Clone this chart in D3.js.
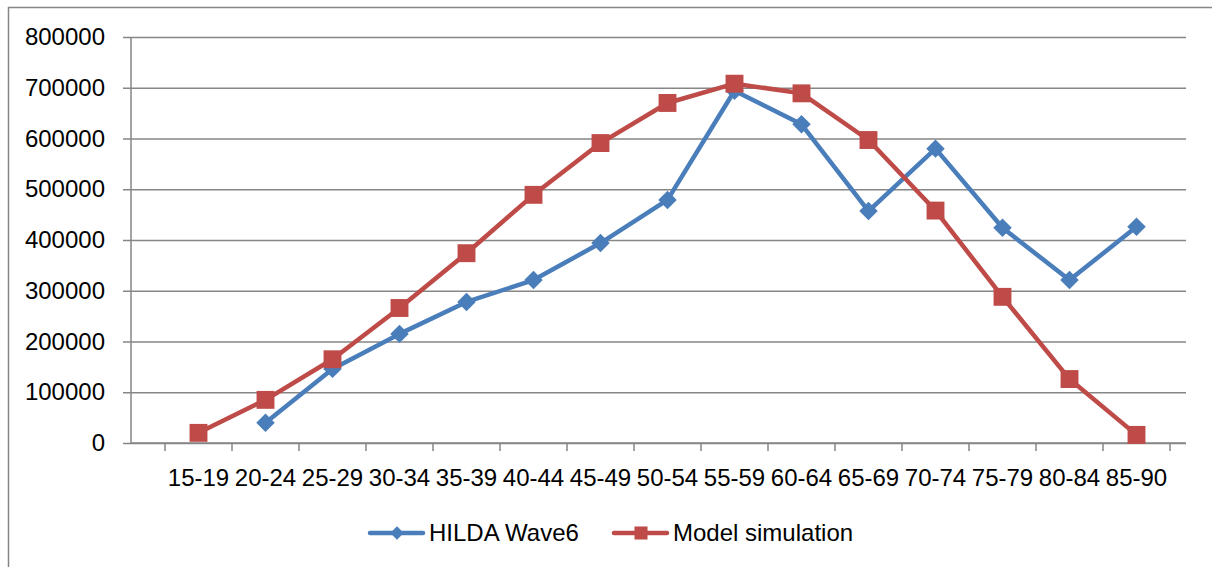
<!DOCTYPE html>
<html>
<head>
<meta charset="utf-8">
<script src="https://cdn.jsdelivr.net/npm/d3@7"></script>
<style>
  body { margin: 0; background: #fff; }
  text { font-family: "Liberation Sans", Arial, sans-serif; fill: #000; }
</style>
</head>
<body>
<div id="wrapper"></div>
<script>
const ageGroups = ["15-19","20-24","25-29","30-34","35-39","40-44","45-49","50-54","55-59","60-64","65-69","70-74","75-79","80-84","85-90"];
const hildaWave6 = [null, 40000, 146000, 215000, 278000, 321000, 394000, 479000, 694000, 628000, 457000, 580000, 424000, 321000, 426000];
const modelSimulation = [20000, 85000, 165000, 266000, 374000, 489000, 591000, 670000, 708000, 689000, 597000, 458000, 288000, 126000, 16000];
const yTicks = [0, 100000, 200000, 300000, 400000, 500000, 600000, 700000, 800000];

const dimension = {
  width: 1212,
  height: 567,
  plotLeft: 131,
  plotRight: 1186,
  plotTop: 37,
  plotBottom: 443,
  bandLeft: 165,
  bandRight: 1170,
};

const blue = "#4a7ebb";
const red = "#be4b48";
const grey = "#868686";

const svg = d3.select("#wrapper")
  .append("svg")
  .attr("width", dimension.width)
  .attr("height", dimension.height);

// chart border (cropped on right and bottom)
svg.append("path")
  .attr("d", `M8.5,${dimension.height} V7.5 H${dimension.width}`)
  .attr("fill", "none")
  .attr("stroke", grey)
  .attr("stroke-width", 1.5);

const x = d3.scaleBand()
  .domain(ageGroups)
  .range([dimension.bandLeft, dimension.bandRight]);

const y = d3.scaleLinear()
  .domain([0, 800000])
  .range([dimension.plotBottom, dimension.plotTop]);

// gridlines + y tick labels
const yAxis = svg.append("g")
  .attr("transform", `translate(${dimension.plotLeft},0)`)
  .call(d3.axisLeft(y)
    .tickValues(yTicks)
    .tickSize(8)
    .tickFormat(d3.format("d")));
yAxis.select(".domain").remove();
yAxis.selectAll(".tick line")
  .attr("x2", dimension.plotRight - dimension.plotLeft)
  .attr("x1", -8)
  .attr("stroke", grey)
  .attr("stroke-width", 1.5);
yAxis.selectAll(".tick text")
  .style("font-size", "24px")
  .attr("x", -26);

// y axis line
svg.append("line")
  .attr("x1", dimension.plotLeft).attr("x2", dimension.plotLeft)
  .attr("y1", dimension.plotTop).attr("y2", dimension.plotBottom)
  .attr("stroke", grey)
  .attr("stroke-width", 1.5);

// x axis
const boundaries = ageGroups.map(d => x(d)).concat([x.range()[1]]);
svg.append("line")
  .attr("x1", dimension.plotLeft).attr("x2", dimension.plotRight)
  .attr("y1", dimension.plotBottom).attr("y2", dimension.plotBottom)
  .attr("stroke", grey)
  .attr("stroke-width", 1.5);
svg.append("g")
  .selectAll("line")
  .data(boundaries)
  .enter()
  .append("line")
  .attr("x1", d => d).attr("x2", d => d)
  .attr("y1", dimension.plotBottom).attr("y2", dimension.plotBottom + 8)
  .attr("stroke", grey)
  .attr("stroke-width", 1.5);
svg.append("g")
  .selectAll("text")
  .data(ageGroups)
  .enter()
  .append("text")
  .attr("x", d => x(d) + x.bandwidth() / 2)
  .attr("y", 486)
  .style("font-size", "24px")
  .style("text-anchor", "middle")
  .text(d => d);

// series; diamond = square rotated 45deg
const series = [
  { name: "HILDA Wave6", values: hildaWave6, color: blue, size: 170, rot: 45, legendSize: 90 },
  { name: "Model simulation", values: modelSimulation, color: red, size: 320, rot: 0, legendSize: 170 },
];

const line = d3.line()
  .defined(d => d.v !== null)
  .x(d => x(d.cat) + x.bandwidth() / 2)
  .y(d => y(d.v));

series.forEach(s => {
  const pts = ageGroups.map((cat, i) => ({ cat, v: s.values[i] }));
  svg.append("path")
    .datum(pts)
    .attr("d", line)
    .attr("fill", "none")
    .attr("stroke", s.color)
    .attr("stroke-width", 4.5)
    .attr("stroke-linejoin", "round");
  svg.append("g")
    .selectAll("path")
    .data(pts.filter(d => d.v !== null))
    .enter()
    .append("path")
    .attr("d", d3.symbol().type(d3.symbolSquare).size(s.size))
    .attr("transform", d => `translate(${x(d.cat) + x.bandwidth() / 2},${y(d.v)}) rotate(${s.rot})`)
    .attr("fill", s.color);
});

// legend
const legendX = [368, 612];
const legend = svg.append("g")
  .selectAll("g")
  .data(series)
  .enter()
  .append("g")
  .attr("transform", (d, i) => `translate(${legendX[i]},533)`);
legend.append("line")
  .attr("x1", 2).attr("x2", 55)
  .attr("stroke", d => d.color)
  .attr("stroke-width", 4.5)
  .attr("stroke-linecap", "round");
legend.append("path")
  .attr("d", d => d3.symbol().type(d3.symbolSquare).size(d.legendSize)())
  .attr("transform", d => `translate(29,0) rotate(${d.rot})`)
  .attr("fill", d => d.color);
legend.append("text")
  .attr("x", 61)
  .attr("y", 8)
  .style("font-size", "24px")
  .text(d => d.name);
</script>
</body>
</html>
